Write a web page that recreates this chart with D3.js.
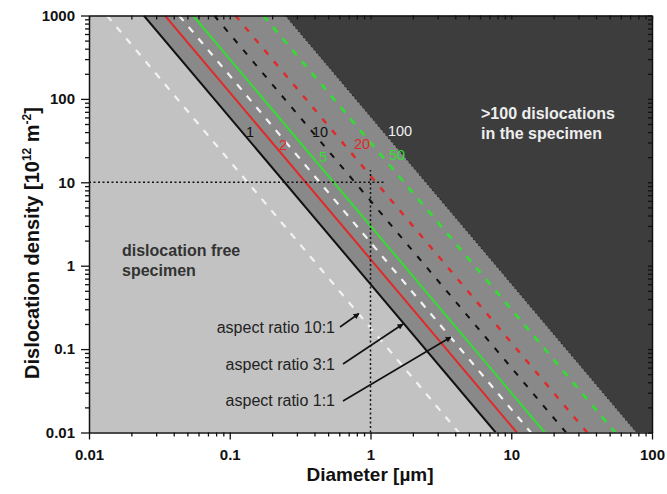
<!DOCTYPE html>
<html>
<head>
<meta charset="utf-8">
<script src="https://cdn.jsdelivr.net/npm/d3@7"></script>
<style>
  html, body { margin: 0; padding: 0; background: #fff; }
  svg { display: block; font-family: "Liberation Sans", Arial, sans-serif; }
</style>
</head>
<body>
<svg id="chart" width="667" height="494"></svg>
<script>
// ---- data ----
const xTickValues = [0.01, 0.1, 1, 10, 100];
const xTickLabels = ["0.01", "0.1", "1", "10", "100"];
const yTickValues = [0.01, 0.1, 1, 10, 100, 1000];
const yTickLabels = ["0.01", "0.1", "1", "10", "100", "1000"];

// lines: diameter (µm) where each line meets rho = 1000 and rho = 0.01
const lineKeys        = ["ar10", "n1", "n2", "ar1", "n5", "n10", "n20", "n50", "n100"];
const lineDiamTop     = [0.0134, 0.0245, 0.0346, 0.0436, 0.0548, 0.0775, 0.1095, 0.173, 0.248];
const lineDiamBottom  = [4.24, 7.75, 10.95, 13.8, 17.3, 24.5, 34.6, 54.8, 77.5];
const rhoTop = 1000, rhoBottom = 0.01;

// number labels
const countLabels = ["1", "2", "5", "10", "20", "50", "100"];

// reference point (dotted guide lines)
const refDiameter = 1, refDensity = 10;
const refHorizEnd = 1.25, refVertEnd = 14;

// ---- layout ----
const svg = d3.select("#chart");
const L = 89, R = 652, T = 15.5, B = 432.5;
const x = d3.scaleLog().domain([0.01, 100]).range([L, R]);
const y = d3.scaleLog().domain([0.01, 1000]).range([B, T]);

const styles = {
  ar10: {stroke: "#f2f2f2", width: 2.2, dash: "7,8"},
  n1:   {stroke: "#111", width: 2, dash: null},
  n2:   {stroke: "#e02a2a", width: 2, dash: null},
  ar1:  {stroke: "#f2f2f2", width: 2.2, dash: "7,8"},
  n5:   {stroke: "#33dd33", width: 2, dash: null},
  n10:  {stroke: "#111", width: 2, dash: "6,9"},
  n20:  {stroke: "#e02a2a", width: 2.4, dash: "6,9"},
  n50:  {stroke: "#33dd33", width: 2.6, dash: "7,8"},
  n100: {stroke: "#222", width: 1.1, dash: "1.2,2.8"}
};

const idx = k => lineKeys.indexOf(k);
const clipId = "plotclip";
svg.append("defs").append("clipPath").attr("id", clipId)
  .append("rect").attr("x", L).attr("y", T).attr("width", R - L).attr("height", B - T);

const g = svg.append("g").attr("clip-path", `url(#${clipId})`);

// background regions
g.append("rect").attr("x", L).attr("y", T).attr("width", R - L).attr("height", B - T).attr("fill", "#c2c2c2");
const poly = d3.line().x(d => x(d[0])).y(d => y(d[1]));
const i1 = idx("n1"), i100 = idx("n100");
g.append("path").attr("fill", "#898989").attr("d", poly([
  [lineDiamTop[i1], rhoTop], [lineDiamTop[i100], rhoTop],
  [lineDiamBottom[i100], rhoBottom], [lineDiamBottom[i1], rhoBottom]]) + "Z");
g.append("path").attr("fill", "#3d3d3d").attr("d", poly([
  [lineDiamTop[i100], rhoTop], [100, rhoTop], [100, rhoBottom], [lineDiamBottom[i100], rhoBottom]]) + "Z");

// lines
lineKeys.forEach((k, i) => {
  const s = styles[k];
  const p = g.append("path")
    .attr("d", poly([[lineDiamTop[i], rhoTop], [lineDiamBottom[i], rhoBottom]]))
    .attr("fill", "none").attr("stroke", s.stroke).attr("stroke-width", s.width);
  if (s.dash) p.attr("stroke-dasharray", s.dash);
});

// dotted guide lines
g.append("path").attr("d", poly([[0.01, refDensity], [refHorizEnd, refDensity]]))
  .attr("stroke", "#111").attr("stroke-width", 1.5).attr("stroke-dasharray", "2,2.5").attr("fill", "none");
g.append("path").attr("d", poly([[refDiameter, rhoBottom], [refDiameter, refVertEnd]]))
  .attr("stroke", "#111").attr("stroke-width", 1.5).attr("stroke-dasharray", "2,2.5").attr("fill", "none");

// count labels
const countPos = {"1": [250, 137, "#111"], "2": [283, 150, "#e02a2a"], "10": [320, 137, "#111"],
  "5": [323, 162, "#33dd33"], "20": [362, 149, "#e02a2a"], "100": [400, 136, "#f0f0f0"], "50": [397, 160, "#33dd33"]};
countLabels.forEach(t => {
  const p = countPos[t];
  svg.append("text").attr("x", p[0]).attr("y", p[1]).attr("text-anchor", "middle")
    .attr("font-size", 14.5).attr("fill", p[2]).text(t);
});

// region labels
svg.append("text").attr("x", 481).attr("y", 119).attr("font-size", 16).attr("font-weight", "bold")
  .attr("fill", "#eeeeee").text(">100 dislocations");
svg.append("text").attr("x", 481).attr("y", 139).attr("font-size", 16).attr("font-weight", "bold")
  .attr("fill", "#eeeeee").text("in the specimen");
svg.append("text").attr("x", 122).attr("y", 256).attr("font-size", 16).attr("font-weight", "bold")
  .attr("fill", "#333").text("dislocation free");
svg.append("text").attr("x", 122).attr("y", 276).attr("font-size", 16).attr("font-weight", "bold")
  .attr("fill", "#333").text("specimen");

// aspect ratio annotations with arrows
svg.append("defs").append("marker").attr("id", "arrow").attr("viewBox", "0 0 10 10")
  .attr("refX", 9).attr("refY", 5).attr("markerWidth", 6).attr("markerHeight", 6)
  .attr("markerUnits", "userSpaceOnUse").attr("orient", "auto")
  .append("path").attr("d", "M0,0 L10,5 L0,10 Z").attr("fill", "#111");
const ann = [
  ["aspect ratio 10:1", 333, [340, 327, 359, 313.5]],
  ["aspect ratio 3:1", 370, [343, 364, 403, 324]],
  ["aspect ratio 1:1", 406, [343, 401, 451, 337]]
];
ann.forEach(a => {
  svg.append("text").attr("x", 335).attr("y", a[1]).attr("text-anchor", "end")
    .attr("font-size", 16).attr("fill", "#222").text(a[0]);
  const c = a[2];
  svg.append("line").attr("x1", c[0]).attr("y1", c[1]).attr("x2", c[2]).attr("y2", c[3])
    .attr("stroke", "#111").attr("stroke-width", 1.6).attr("marker-end", "url(#arrow)");
});

// ---- axes ----
const minorX = [], minorY = [];
for (let e = -2; e < 2; e++) for (let m = 2; m <= 9; m++) minorX.push(m * Math.pow(10, e));
for (let e = -2; e < 3; e++) for (let m = 2; m <= 9; m++) minorY.push(m * Math.pow(10, e));

function styleAxis(sel) {
  sel.select(".domain").attr("stroke", "#111").attr("stroke-width", 1.5);
  sel.selectAll(".tick line").attr("stroke", "#111").attr("stroke-width", 1.3);
  sel.selectAll("text").attr("font-family", "Liberation Sans, Arial, sans-serif")
    .attr("font-weight", "bold").attr("font-size", 15).attr("fill", "#111");
}
// bottom
svg.append("g").attr("transform", `translate(0,${B})`)
  .call(d3.axisBottom(x).tickValues(minorX).tickSize(4).tickFormat(""))
  .call(s => { s.select(".domain").remove(); s.selectAll("line").attr("stroke", "#111").attr("stroke-width", 1.3); });
svg.append("g").attr("transform", `translate(0,${B})`)
  .call(d3.axisBottom(x).tickValues(xTickValues).tickSize(7).tickSizeOuter(0).tickPadding(10)
    .tickFormat((d, i) => xTickLabels[i]))
  .call(styleAxis);
// left
svg.append("g").attr("transform", `translate(${L},0)`)
  .call(d3.axisLeft(y).tickValues(minorY).tickSize(4).tickFormat(""))
  .call(s => { s.select(".domain").remove(); s.selectAll("line").attr("stroke", "#111").attr("stroke-width", 1.3); });
svg.append("g").attr("transform", `translate(${L},0)`)
  .call(d3.axisLeft(y).tickValues(yTickValues).tickSize(8).tickSizeOuter(0).tickPadding(6)
    .tickFormat((d, i) => yTickLabels[i]))
  .call(styleAxis);
// top (inward)
svg.append("g").attr("transform", `translate(0,${T})`)
  .call(d3.axisBottom(x).tickValues(minorX.concat(xTickValues)).tickSize(4).tickSizeOuter(0).tickFormat(""))
  .call(styleAxis);
// right (inward)
svg.append("g").attr("transform", `translate(${R},0)`)
  .call(d3.axisLeft(y).tickValues(minorY.concat(yTickValues)).tickSize(4).tickSizeOuter(0).tickFormat(""))
  .call(styleAxis);

// axis titles
svg.append("text").attr("x", 370).attr("y", 481).attr("text-anchor", "middle")
  .attr("font-size", 19).attr("font-weight", "bold").attr("fill", "#111").text("Diameter [µm]");
const yt = svg.append("text").attr("transform", "translate(39,243) rotate(-90)")
  .attr("text-anchor", "middle").attr("font-size", 20).attr("font-weight", "bold").attr("fill", "#111");
yt.append("tspan").text("Dislocation density [10");
yt.append("tspan").attr("dy", -8).attr("font-size", 12).text("12");
yt.append("tspan").attr("dy", 8).text(" m");
yt.append("tspan").attr("dy", -8).attr("font-size", 12).text("-2");
yt.append("tspan").attr("dy", 8).text("]");
</script>
</body>
</html>
